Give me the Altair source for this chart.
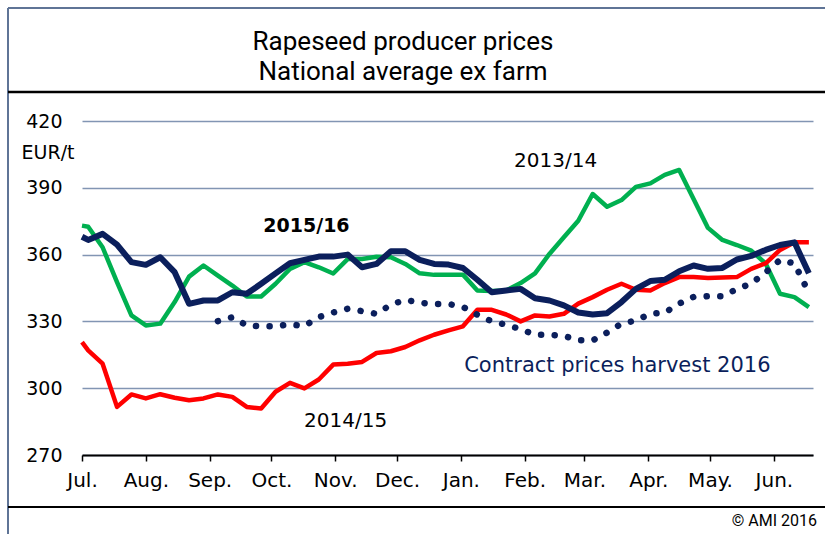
import altair as alt
import pandas as pd

# ---------------- data ----------------
# x = day of marketing year (0 = 1 July), weekly quotations
days = [0, 3, 10, 17, 24, 31, 38, 45, 52, 59, 66, 73, 80, 87, 94, 101, 108, 115,
        122, 129, 136, 143, 150, 157, 164, 171, 178, 185, 192, 199, 206, 213, 220,
        227, 234, 241, 248, 255, 262, 269, 276, 283, 290, 297, 304, 311, 318, 325,
        332, 339, 346, 353]

month_labels = ["Jul.", "Aug.", "Sep.", "Oct.", "Nov.", "Dec.", "Jan.", "Feb.",
                "Mar.", "Apr.", "May.", "Jun."]
month_days = [0, 31, 62, 92, 123, 153, 184, 215, 244, 275, 305, 336]
y_ticks = [270, 300, 330, 360, 390, 420]

p_2015_16 = [368, 366.6, 369.3, 364.5, 356.6, 355.4, 358.8, 352.1, 337.9, 339.4,
             339.4, 343.1, 342.4, 346.9, 351.6, 356.1, 357.6, 359.1, 359.1,
             360, 354.3, 355.8, 361.5, 361.5, 357.6, 355.8, 355.5,
             354, 348.7, 343.1, 343.9, 344.6, 340.4, 339.4, 337.2, 334,
             333.1, 333.7, 338.7, 344.6, 348.1, 348.7, 352.5, 355.1, 353.6, 354,
             357.8, 359.4, 362.1, 364.3, 365.5, 351.6]

p_2013_14 = [373, 372.5, 363.3, 347.6, 332.7, 328.2, 329, 338.7, 350.1, 355.1,
             350.6, 346.1, 341.2, 341.2, 346.9, 353.6, 356.6, 354.3, 351.5,
             358, 358, 359, 358.8, 355.8, 351.6, 350.9, 350.9,
             351, 343.9, 343.6, 343.9, 347.2, 351.6, 360.3, 367.8, 375.2,
             387.2, 381.5, 384.5, 390.4, 392, 395.8, 398, 385, 372, 366.6,
             364.3, 361.8, 356, 342.4, 340.9, 336.4]

p_2014_15 = [320.7, 317, 311, 291.6, 297.2, 295.4, 297.3, 295.7, 294.6, 295.4,
             297.2, 296.1, 291.6, 290.9, 298.4, 302.4, 299.9, 303.9, 310.6,
             311, 311.8, 315.8, 316.6, 318.5, 321.5, 324, 326,
             327.8, 335.2, 335.2, 333.1, 330, 332.7, 332.2, 333.4, 338,
             340.9, 344.2, 346.9, 344.2, 343.9, 347.2, 349.9, 349.9, 349.5, 349.7,
             349.9, 353.6, 356.1, 362.1, 365.5, 365.5]

contract_days = days[10:]
p_contract = [330.1, 331.9, 328.2, 327.8, 327.8, 328.7, 327.9, 331.9, 334,
              335.7, 334.6, 333.4, 337.5, 339.7, 338.4, 337.8, 337.8,
              336.5, 333, 330, 328.5, 326.5, 324, 324, 323.5, 321.5,
              321.5, 325, 329, 330.4, 333.4, 333.9, 338, 341, 341.3, 341.3,
              344.5, 347, 352, 357.6, 356, 342.8]

rows = []
for name, xs, ys in [("2013/14", days, p_2013_14), ("2014/15", days, p_2014_15),
                     ("contract", contract_days, p_contract),
                     ("2015/16", days, p_2015_16)]:
    for d, v in zip(xs, ys):
        rows.append({"day": d, "price": v, "series": name})
df = pd.DataFrame(rows)

# ---------------- styling ----------------
NAVY = "#0b1f5c"
GREEN = "#00b050"
RED = "#ff0000"
GRID = "#8295b3"
FRAME = "#5f7496"
FONT = "DejaVu Sans"
TFONT = "Roboto"

label_expr = "[" + ",".join("'%s'" % m for m in month_labels) + "][indexof([" + \
    ",".join(str(d) for d in month_days) + "], datum.value)]"

x_enc = alt.X("day:Q",
              scale=alt.Scale(domain=[0, 355], nice=False, zero=False),
              axis=alt.Axis(values=month_days, labelExpr=label_expr, title=None,
                            grid=False, domainColor="black", domainWidth=2,
                            tickColor="black", tickWidth=1.5, tickSize=6,
                            labelFont=FONT, labelFontSize=20, labelColor="black",
                            labelPadding=9, labelFlush=False, labelOverlap=False,
                            zindex=1))
y_enc = alt.Y("price:Q",
              scale=alt.Scale(domain=[270, 420], nice=False, zero=False),
              axis=alt.Axis(values=y_ticks, title=None, grid=True, gridColor=GRID,
                            gridWidth=1.5, domain=False, ticks=False,
                            labelFont=FONT, labelFontSize=19, labelColor="black",
                            labelPadding=20))

base = alt.Chart(df)

def series_line(name, color, width, dash=None):
    kw = dict(color=color, strokeWidth=width, strokeJoin="round")
    if dash is not None:
        kw["strokeDash"] = dash
        kw["strokeCap"] = "round"
    return base.transform_filter(alt.datum.series == name).mark_line(**kw).encode(
        x=x_enc, y=y_enc, order="day:Q")

green = series_line("2013/14", GREEN, 4.5)
red = series_line("2014/15", RED, 4.5)
dotted = series_line("contract", NAVY, 6.5, [0.1, 13.5])
navy = series_line("2015/16", NAVY, 6)

one = alt.Data(values=[{"a": 1}])

def rule(x1, x2, y1, y2, color, width):
    return alt.Chart(one).mark_rule(color=color, strokeWidth=width).encode(
        x=alt.value(x1), x2=alt.value(x2), y=alt.value(y1), y2=alt.value(y2))

def ptext(txt, x, y, size, font=FONT, color="black", align="center", weight="normal"):
    return alt.Chart(one).mark_text(text=txt, font=font, fontSize=size, color=color,
                                    align=align, baseline="middle",
                                    fontWeight=weight).encode(
        x=alt.value(x), y=alt.value(y))

def dtext(txt, dx, dy, size, color="black", weight="normal"):
    return alt.Chart(one).mark_text(text=txt, font=FONT, fontSize=size, color=color,
                                    align="center", baseline="middle",
                                    fontWeight=weight).encode(
        x=alt.datum(dx), y=alt.datum(dy))

layers = [
    green, red, dotted, navy,
    rule(-74, 743, -113, -113, FRAME, 2),
    rule(-74, -74, -113, 413, FRAME, 2),
    rule(-74, 743, -29, -29, "black", 2.5),
    rule(-74, 743, 386, 386, "black", 2),
    ptext("Rapeseed producer prices", 321, -79, 26, font=TFONT),
    ptext("National average ex farm", 321, -49, 26, font=TFONT),
    ptext("EUR/t", -34, 32, 19),
    ptext("© AMI 2016", 735, 400, 16, font=TFONT, align="right"),
    dtext("2015/16", 109, 372.7, 19, weight="bold"),
    dtext("2013/14", 230, 402, 20),
    dtext("2014/15", 128, 285.4, 20),
    dtext("Contract prices harvest 2016", 260, 310, 21, color=NAVY),
]

chart = alt.layer(*layers).properties(
    width=731, height=334,
    autosize=alt.AutoSizeParams(type="none"),
    padding={"left": 82, "top": 121, "right": 12, "bottom": 79},
    background="white",
).configure_view(stroke=None)

chart.save("out.html", embed_options={"renderer": "svg", "actions": False})
